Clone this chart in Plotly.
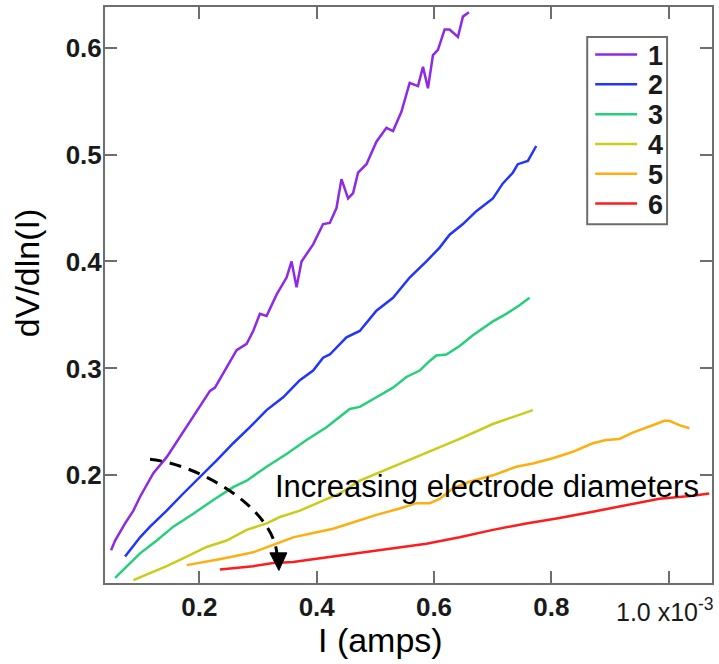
import plotly.graph_objects as go

# Current (mA scale, axis labelled x10^-3 A) and dV/dln(I) for six electrodes
x1 = [0.0494, 0.0562, 0.0732, 0.0874, 0.0988, 0.1214, 0.1442, 0.1669, 0.1839, 0.2009,
      0.2180, 0.2265, 0.2464, 0.2634, 0.2805, 0.2917, 0.3031, 0.3145, 0.3315, 0.3486,
      0.3571, 0.3656, 0.3741, 0.3939, 0.4109, 0.4223, 0.4337, 0.4422, 0.4535, 0.4620,
      0.4705, 0.4848, 0.5018, 0.5189, 0.5301, 0.5444, 0.5585, 0.5727, 0.5812, 0.5897,
      0.5982, 0.6067, 0.6181, 0.6266, 0.6408, 0.6493, 0.6595]
y1 = [0.130, 0.139, 0.155, 0.167, 0.180, 0.202, 0.217, 0.236, 0.251, 0.264,
      0.279, 0.282, 0.301, 0.317, 0.323, 0.335, 0.351, 0.349, 0.369, 0.385,
      0.400, 0.376, 0.400, 0.416, 0.435, 0.436, 0.450, 0.477, 0.459, 0.464,
      0.483, 0.491, 0.512, 0.525, 0.522, 0.540, 0.567, 0.564, 0.582, 0.562,
      0.593, 0.598, 0.617, 0.617, 0.610, 0.629, 0.633]

x2 = [0.0732, 0.0817, 0.0988, 0.1158, 0.1442, 0.1725, 0.2009, 0.2294, 0.2576, 0.2861,
      0.3145, 0.3428, 0.3712, 0.3939, 0.4109, 0.4223, 0.4507, 0.4734, 0.5018, 0.5301,
      0.5585, 0.5870, 0.6096, 0.6266, 0.6493, 0.6721, 0.7004, 0.7174, 0.7344, 0.7429,
      0.7600, 0.7743]
y2 = [0.124, 0.130, 0.142, 0.152, 0.167, 0.183, 0.198, 0.214, 0.230, 0.245,
      0.261, 0.273, 0.289, 0.298, 0.310, 0.313, 0.329, 0.335, 0.354, 0.366,
      0.385, 0.400, 0.413, 0.425, 0.435, 0.447, 0.459, 0.473, 0.483, 0.491,
      0.494, 0.508]

x3 = [0.0562, 0.0761, 0.0988, 0.1272, 0.1555, 0.1895, 0.2236, 0.2576, 0.2805, 0.3145,
      0.3486, 0.3826, 0.4167, 0.4564, 0.4734, 0.5018, 0.5301, 0.5529, 0.5756, 0.5926,
      0.6040, 0.6210, 0.6437, 0.6663, 0.7004, 0.7232, 0.7458, 0.7629]
y3 = [0.104, 0.115, 0.127, 0.139, 0.152, 0.164, 0.177, 0.189, 0.195, 0.208,
      0.220, 0.233, 0.245, 0.262, 0.264, 0.273, 0.282, 0.292, 0.298, 0.307,
      0.312, 0.313, 0.321, 0.331, 0.344, 0.351, 0.359, 0.366]

x4 = [0.0874, 0.1101, 0.1442, 0.1783, 0.2123, 0.2464, 0.2805, 0.3145, 0.3372, 0.3712,
      0.4053, 0.4393, 0.4734, 0.5301, 0.5870, 0.6437, 0.7004, 0.7685]
y4 = [0.102, 0.107, 0.115, 0.124, 0.133, 0.139, 0.149, 0.155, 0.161, 0.167,
      0.175, 0.183, 0.195, 0.208, 0.221, 0.234, 0.248, 0.261]

x5 = [0.1783, 0.2009, 0.2294, 0.2576, 0.2917, 0.3258, 0.3598, 0.3939, 0.4279, 0.4734,
      0.5018, 0.5415, 0.5699, 0.5926, 0.6096, 0.6323, 0.6607, 0.7004, 0.7402, 0.7685,
      0.8026, 0.8366, 0.8707, 0.8935, 0.9161, 0.9388, 0.9616, 0.9786, 0.9928, 1.0013,
      1.0183, 1.0353]
y5 = [0.116, 0.118, 0.121, 0.124, 0.128, 0.135, 0.142, 0.146, 0.150, 0.158,
      0.163, 0.169, 0.174, 0.174, 0.178, 0.188, 0.194, 0.200, 0.208, 0.211,
      0.216, 0.222, 0.230, 0.233, 0.234, 0.240, 0.245, 0.248, 0.251, 0.251,
      0.247, 0.244]

x6 = [0.2350, 0.2576, 0.2917, 0.3258, 0.3598, 0.3997, 0.4393, 0.4734, 0.5301, 0.5870,
      0.6437, 0.7004, 0.7573, 0.8140, 0.8707, 0.9276, 0.9843, 1.0410, 1.0693]
y6 = [0.112, 0.113, 0.115, 0.118, 0.119, 0.122, 0.125, 0.128, 0.132, 0.136,
      0.142, 0.149, 0.155, 0.160, 0.166, 0.172, 0.178, 0.181, 0.183]

series_names = ["1", "2", "3", "4", "5", "6"]
series_x = [x1, x2, x3, x4, x5, x6]
series_y = [y1, y2, y3, y4, y5, y6]
series_colors = ["#8c2ae6", "#2035ff", "#26d07a", "#c9cc18", "#ffae10", "#ff1c1c"]

# Labelled x ticks; the 1.0 tick carries the exponent label drawn separately
x_tickvals = [0.2, 0.4, 0.6, 0.8]
x_ticktext = ["0.2", "0.4", "0.6", "0.8"]
x_exp_tick = [1.0]
x_exp_label = "1.0 x10<sup>-3</sup>"
y_tickvals = [0.2, 0.3, 0.4, 0.5, 0.6]
y_ticktext = ["0.2", "0.3", "0.4", "0.5", "0.6"]

# Dashed arc (cubic Bezier) and arrow head, in data units
arc_start = (0.1158, 0.215)
arc_c1 = (0.1924, 0.211)
arc_c2 = (0.3235, 0.172)
arc_end = (0.3321, 0.127)
head_left = (0.3201, 0.1275)
head_right = (0.3491, 0.1275)
head_tip = (0.3355, 0.111)

FONT = "Liberation Sans, Arial, Helvetica, sans-serif"
AXIS_GRAY = "#6e6e6e"
TICK_STYLE = dict(ticks="inside", ticklen=12, tickwidth=2, tickcolor=AXIS_GRAY)

W, H = 719, 664
ML, MR, MT, MB = 105, 6, 5, 81
PW, PH = W - ML - MR, H - MT - MB


def px_x(px):
    """Pixel column -> paper x."""
    return (px - ML) / PW


def px_y(py):
    """Pixel row -> paper y."""
    return (H - MB - py) / PH


fig = go.Figure()
for name, xs, ys, col in zip(series_names, series_x, series_y, series_colors):
    fig.add_trace(go.Scatter(x=xs, y=ys, mode="lines", name=name,
                             line=dict(color=col, width=2.5), showlegend=False))

fig.add_shape(type="path", xref="x", yref="y",
              path=(f"M {arc_start[0]},{arc_start[1]} "
                    f"C {arc_c1[0]},{arc_c1[1]} {arc_c2[0]},{arc_c2[1]} {arc_end[0]},{arc_end[1]}"),
              line=dict(color="black", width=3, dash="12px,8px"))
fig.add_shape(type="path", xref="x", yref="y",
              path=(f"M {head_left[0]},{head_left[1]} L {head_right[0]},{head_right[1]} "
                    f"L {head_tip[0]},{head_tip[1]} Z"),
              fillcolor="black", line=dict(color="black", width=1))

# Compact boxed legend: sample line + bold label per series
LEG_LEFT, LEG_RIGHT, LEG_TOP, LEG_BOTTOM = 588, 668, 35, 223
LEG_ROW0, LEG_ROW_STEP = 52.7, 29.9
fig.add_shape(type="rect", xref="paper", yref="paper",
              x0=px_x(LEG_LEFT), x1=px_x(LEG_RIGHT), y0=px_y(LEG_BOTTOM), y1=px_y(LEG_TOP),
              fillcolor="white", line=dict(color=AXIS_GRAY, width=2))
for i, (name, col) in enumerate(zip(series_names, series_colors)):
    row = LEG_ROW0 + i * LEG_ROW_STEP
    fig.add_shape(type="line", xref="paper", yref="paper",
                  x0=px_x(596), x1=px_x(638), y0=px_y(row), y1=px_y(row),
                  line=dict(color=col, width=2.5))
    fig.add_annotation(text=name, xref="paper", yref="paper", x=px_x(647), y=px_y(row + 1),
                       xanchor="left", yanchor="middle", showarrow=False,
                       font=dict(family=FONT, size=27, color="#1a1a1a", weight="bold"))

axis_common = dict(showline=True, linecolor=AXIS_GRAY, linewidth=2, mirror="ticks",
                   showgrid=False, zeroline=False,
                   tickfont=dict(family=FONT, size=26, color="#1a1a1a", weight="bold"),
                   **TICK_STYLE)

fig.update_xaxes(range=[0.039, 1.074], tickmode="array", tickvals=x_tickvals,
                 ticktext=x_ticktext,
                 minor=dict(tickmode="array", tickvals=x_exp_tick, **TICK_STYLE),
                 **axis_common)
fig.update_yaxes(range=[0.0993, 0.638], tickmode="array", tickvals=y_tickvals,
                 ticktext=y_ticktext, ticklabelstandoff=-4, **axis_common)

fig.add_annotation(text="Increasing electrode diameters", xref="x", yref="y",
                   x=0.3254, y=0.190, xanchor="left", yanchor="middle", showarrow=False,
                   font=dict(family=FONT, size=31, color="black"))
fig.add_annotation(text=x_exp_label, xref="paper", yref="paper",
                   x=px_x(666), y=px_y(610), xanchor="center",
                   yanchor="middle", showarrow=False,
                   font=dict(family=FONT, size=25, color="#1a1a1a"))
fig.add_annotation(text="I (amps)", xref="paper", yref="paper",
                   x=px_x(381), y=px_y(640), xanchor="center",
                   yanchor="middle", showarrow=False,
                   font=dict(family=FONT, size=34, color="black"))
fig.add_annotation(text="dV/dln(I)", xref="paper", yref="paper", textangle=-90,
                   x=px_x(27), y=px_y(272), xanchor="center",
                   yanchor="middle", showarrow=False,
                   font=dict(family=FONT, size=34, color="black"))

fig.update_layout(
    width=W, height=H,
    margin=dict(l=ML, r=MR, t=MT, b=MB),
    plot_bgcolor="white", paper_bgcolor="white",
    showlegend=False,
)

fig.write_html("out.html")
